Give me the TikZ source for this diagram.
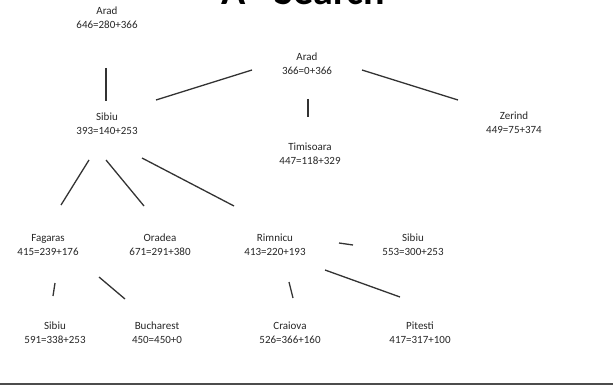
\documentclass[tikz,border=0pt]{standalone}
\usepackage{fontspec}
\setmainfont{Carlito}
\usetikzlibrary{calc}
\begin{document}
\begin{tikzpicture}[x=1pt, y=-1pt,
    city/.style={align=center, inner sep=0pt, text=black!85, font=\fontsize{11}{14}\selectfont},
    link/.style={draw=black!80, line width=1.3pt},
    title/.style={font=\fontsize{40}{40}\selectfont\bfseries, anchor=base}
]
\useasboundingbox (0,0) rectangle (613,385);
\clip (0,0) rectangle (613,385);

% Titulo, cortado por arriba
\node[title] (T) at (303,4.5) {A* Search};

% Nodos del arbol
% Formato: nombre, ciudad, f=g+h, x, y
\foreach \name/\city/\cost/\x/\y in {
    root/Arad/366=0+366/307/64,
    sibiu/Sibiu/393=140+253/107/124,
    timisoara/Timisoara/447=118+329/310/154,
    zerind/Zerind/449=75+374/514/123,
    aradB/Arad/646=280+366/107/18,
    fagaras/Fagaras/415=239+176/48/245,
    oradea/Oradea/671=291+380/160/245,
    rimnicu/Rimnicu/413=220+193/275/245,
    sibiuR/Sibiu/553=300+253/413/245,
    sibiuF/Sibiu/591=338+253/55/333,
    bucharest/Bucharest/450=450+0/157/333,
    craiova/Craiova/526=366+160/290/333,
    pitesti/Pitesti/417=317+100/420/333
} {
    \node[city] (\name) at (\x,\y) {\city\\\cost};
}

% Ramas: desde, dx, dy, hasta, dx, dy
\foreach \a/\ax/\ay/\b/\bx/\by in {
    aradB/-1/50/sibiu/-1/-23,
    root/-55/6/sibiu/49/-24,
    root/55/6/zerind/-56/-23,
    root/1/35/timisoara/-2/-37,
    sibiu/-18/36/fagaras/13/-40,
    sibiu/-1/36/oradea/-16/-39,
    sibiu/35/34/rimnicu/-41/-39,
    rimnicu/64/-2/sibiuR/-60/0,
    fagaras/7/38/sibiuF/-2/-37,
    fagaras/51/32/bucharest/-32/-34,
    rimnicu/14/37/craiova/3/-35,
    rimnicu/50/25/pitesti/-20/-36
} {
    \draw[link] ($(\a)+(\ax,\ay)$) -- ($(\b)+(\bx,\by)$);
}

% Linea inferior
\fill[black!70] (0,382.5) rectangle (613,385);
\end{tikzpicture}
\end{document}
